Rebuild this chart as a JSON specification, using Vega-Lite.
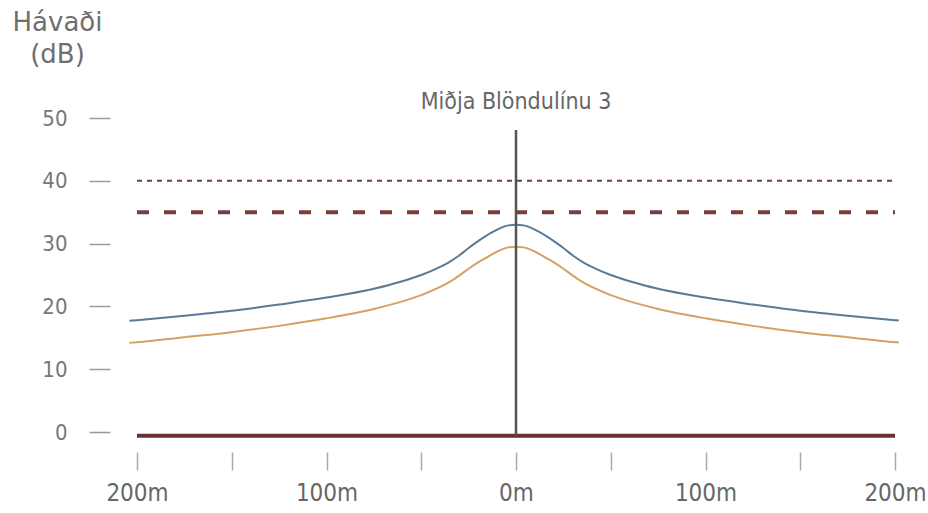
{
  "$schema": "https://vega.github.io/schema/vega-lite/v6.json",
  "width": 758,
  "height": 314,
  "autosize": {"type": "none"},
  "padding": {"left": 137, "top": 118, "right": 33, "bottom": 81},
  "background": "white",
  "config": {"view": {"stroke": null}},
  "datasets": {
    "curves": [
      {"x": -204, "y": 17.7, "s": "blue"},
      {"x": -200, "y": 17.8, "s": "blue"},
      {"x": -175, "y": 18.5, "s": "blue"},
      {"x": -150, "y": 19.3, "s": "blue"},
      {"x": -125, "y": 20.3, "s": "blue"},
      {"x": -100, "y": 21.4, "s": "blue"},
      {"x": -75, "y": 22.8, "s": "blue"},
      {"x": -60, "y": 24.0, "s": "blue"},
      {"x": -50, "y": 25.0, "s": "blue"},
      {"x": -40, "y": 26.3, "s": "blue"},
      {"x": -35, "y": 27.1, "s": "blue"},
      {"x": -30, "y": 28.1, "s": "blue"},
      {"x": -25, "y": 29.3, "s": "blue"},
      {"x": -20, "y": 30.4, "s": "blue"},
      {"x": -16, "y": 31.2, "s": "blue"},
      {"x": -12, "y": 31.9, "s": "blue"},
      {"x": -8, "y": 32.5, "s": "blue"},
      {"x": -4, "y": 32.9, "s": "blue"},
      {"x": 0, "y": 33.0, "s": "blue"},
      {"x": 4, "y": 32.9, "s": "blue"},
      {"x": 8, "y": 32.5, "s": "blue"},
      {"x": 12, "y": 31.9, "s": "blue"},
      {"x": 16, "y": 31.2, "s": "blue"},
      {"x": 20, "y": 30.4, "s": "blue"},
      {"x": 25, "y": 29.3, "s": "blue"},
      {"x": 30, "y": 28.1, "s": "blue"},
      {"x": 35, "y": 27.1, "s": "blue"},
      {"x": 40, "y": 26.3, "s": "blue"},
      {"x": 50, "y": 25.0, "s": "blue"},
      {"x": 60, "y": 24.0, "s": "blue"},
      {"x": 75, "y": 22.8, "s": "blue"},
      {"x": 100, "y": 21.4, "s": "blue"},
      {"x": 125, "y": 20.3, "s": "blue"},
      {"x": 150, "y": 19.3, "s": "blue"},
      {"x": 175, "y": 18.5, "s": "blue"},
      {"x": 200, "y": 17.8, "s": "blue"},
      {"x": 202, "y": 17.75, "s": "blue"},
      {"x": -204, "y": 14.2, "s": "orange"},
      {"x": -200, "y": 14.3, "s": "orange"},
      {"x": -175, "y": 15.1, "s": "orange"},
      {"x": -150, "y": 15.9, "s": "orange"},
      {"x": -125, "y": 16.9, "s": "orange"},
      {"x": -100, "y": 18.1, "s": "orange"},
      {"x": -75, "y": 19.6, "s": "orange"},
      {"x": -60, "y": 20.8, "s": "orange"},
      {"x": -50, "y": 21.8, "s": "orange"},
      {"x": -40, "y": 23.1, "s": "orange"},
      {"x": -35, "y": 23.9, "s": "orange"},
      {"x": -30, "y": 24.9, "s": "orange"},
      {"x": -25, "y": 26.0, "s": "orange"},
      {"x": -20, "y": 27.0, "s": "orange"},
      {"x": -16, "y": 27.7, "s": "orange"},
      {"x": -12, "y": 28.4, "s": "orange"},
      {"x": -8, "y": 29.0, "s": "orange"},
      {"x": -4, "y": 29.4, "s": "orange"},
      {"x": 0, "y": 29.5, "s": "orange"},
      {"x": 4, "y": 29.4, "s": "orange"},
      {"x": 8, "y": 29.0, "s": "orange"},
      {"x": 12, "y": 28.4, "s": "orange"},
      {"x": 16, "y": 27.7, "s": "orange"},
      {"x": 20, "y": 27.0, "s": "orange"},
      {"x": 25, "y": 26.0, "s": "orange"},
      {"x": 30, "y": 24.9, "s": "orange"},
      {"x": 35, "y": 23.9, "s": "orange"},
      {"x": 40, "y": 23.1, "s": "orange"},
      {"x": 50, "y": 21.8, "s": "orange"},
      {"x": 60, "y": 20.8, "s": "orange"},
      {"x": 75, "y": 19.6, "s": "orange"},
      {"x": 100, "y": 18.1, "s": "orange"},
      {"x": 125, "y": 16.9, "s": "orange"},
      {"x": 150, "y": 15.9, "s": "orange"},
      {"x": 175, "y": 15.1, "s": "orange"},
      {"x": 200, "y": 14.3, "s": "orange"},
      {"x": 202, "y": 14.25, "s": "orange"}
    ],
    "limit40": [{"x": -200, "x2": 200, "y": 40}],
    "limit35": [{"x": -200, "x2": 200, "y": 35}],
    "base": [{"x": -200, "x2": 200, "y": -0.6}],
    "center": [{"x": 0, "y": -0.6, "y2": 48.1}],
    "label": [{"x": 0, "y": 51.4, "text": "Miðja Blöndulínu 3"}]
  },
  "layer": [
    {
      "data": {"name": "curves"},
      "mark": {"type": "line", "strokeWidth": 2, "interpolate": "monotone"},
      "encoding": {
        "x": {
          "field": "x", "type": "quantitative",
          "scale": {"domain": [-200, 200], "nice": false, "zero": false},
          "axis": {
            "values": [-200, -150, -100, -50, 0, 50, 100, 150, 200],
            "labelExpr": "datum.value % 100 == 0 ? abs(datum.value) + 'm' : ''",
            "domain": false, "grid": false, "offset": 20, "tickSize": 18,
            "tickColor": "#aaaaaa", "tickWidth": 1.5, "labelPadding": 11,
            "labelFont": "DejaVu Sans Condensed, Roboto", "labelFontSize": 24,
            "labelColor": "#666666", "title": null, "labelFlush": false, "labelOverlap": false
          }
        },
        "y": {
          "field": "y", "type": "quantitative",
          "scale": {"domain": [0, 50], "nice": false},
          "axis": {
            "values": [0, 10, 20, 30, 40, 50],
            "domain": false, "grid": false, "offset": 27, "tickSize": 21,
            "tickColor": "#999999", "tickWidth": 1.5, "labelPadding": 22,
            "labelFont": "DejaVu Sans Condensed, Roboto", "labelFontSize": 22,
            "labelColor": "#777777",
            "title": ["Hávaði", "(dB)"], "titleAngle": 0, "titleAlign": "center",
            "titleBaseline": "top", "titleX": -53, "titleY": -109,
            "titleFont": "DejaVu Sans", "titleFontSize": 26, "titleFontWeight": "normal",
            "titleColor": "#6f6f6f", "titleLineHeight": 32
          }
        },
        "color": {
          "field": "s", "type": "nominal",
          "scale": {"domain": ["blue", "orange"], "range": ["#5a7b98", "#d6a064"]},
          "legend": null
        }
      }
    },
    {
      "data": {"name": "limit40"},
      "mark": {"type": "rule", "strokeDash": [5, 5], "strokeWidth": 2, "color": "#7a3a3a"},
      "encoding": {
        "x": {"field": "x", "type": "quantitative"},
        "x2": {"field": "x2"},
        "y": {"field": "y", "type": "quantitative"}
      }
    },
    {
      "data": {"name": "limit35"},
      "mark": {"type": "rule", "strokeDash": [12, 15], "strokeWidth": 4, "color": "#7d3c3c"},
      "encoding": {
        "x": {"field": "x", "type": "quantitative"},
        "x2": {"field": "x2"},
        "y": {"field": "y", "type": "quantitative"}
      }
    },
    {
      "data": {"name": "base"},
      "mark": {"type": "rule", "strokeWidth": 4, "color": "#6e2f2f"},
      "encoding": {
        "x": {"field": "x", "type": "quantitative"},
        "x2": {"field": "x2"},
        "y": {"field": "y", "type": "quantitative"}
      }
    },
    {
      "data": {"name": "center"},
      "mark": {"type": "rule", "strokeWidth": 2.5, "color": "#555555"},
      "encoding": {
        "x": {"field": "x", "type": "quantitative"},
        "y": {"field": "y", "type": "quantitative"},
        "y2": {"field": "y2"}
      }
    },
    {
      "data": {"name": "label"},
      "mark": {"type": "text", "font": "DejaVu Sans Condensed, Roboto", "fontSize": 23, "color": "#666666", "align": "center", "baseline": "alphabetic"},
      "encoding": {
        "x": {"field": "x", "type": "quantitative"},
        "y": {"field": "y", "type": "quantitative"},
        "text": {"field": "text"}
      }
    }
  ]
}
